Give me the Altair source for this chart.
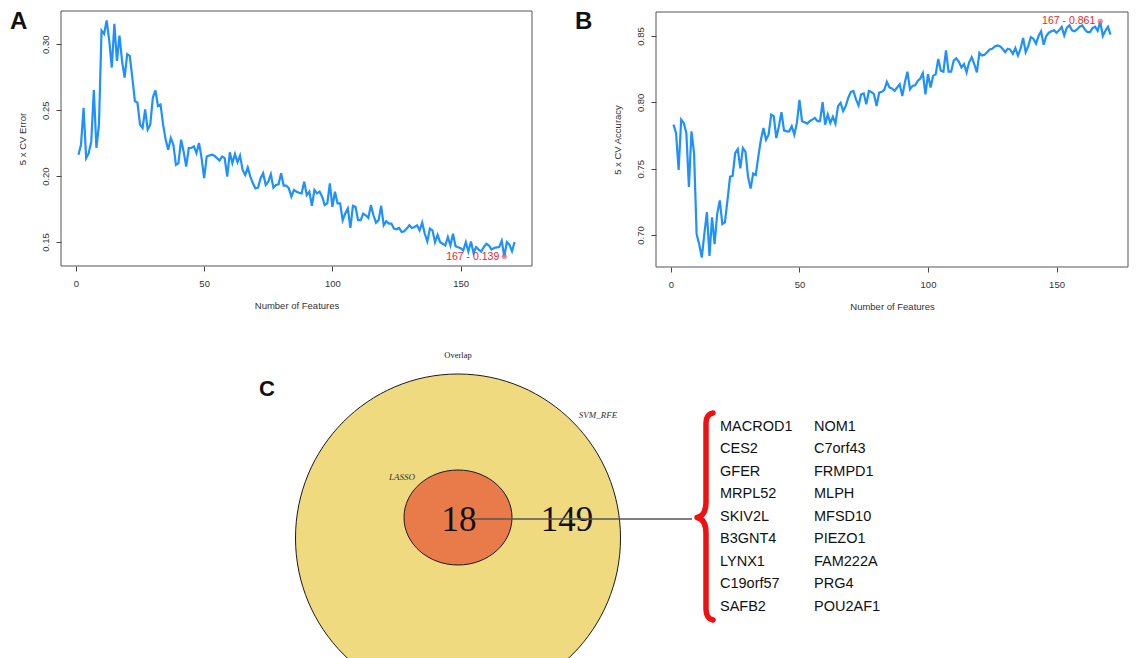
import altair as alt
import pandas as pd

W, H = 1137, 658

# ---------------- data ----------------
features = list(range(1, 172))

cv_error = [
    0.2162, 0.2238, 0.2518, 0.2136, 0.2174, 0.2263, 0.2653, 0.2213, 0.2390, 0.3103,
    0.3078, 0.3180, 0.3027, 0.2823, 0.3154, 0.2874, 0.3065, 0.2874, 0.2747, 0.2925,
    0.2912, 0.2747, 0.2569, 0.2556, 0.2390, 0.2365, 0.2505, 0.2352, 0.2390, 0.2594,
    0.2650, 0.2531, 0.2543, 0.2390, 0.2276, 0.2200, 0.2289, 0.2238, 0.2085, 0.2098,
    0.2276, 0.2187, 0.2072, 0.2213, 0.2213, 0.2225, 0.2174, 0.2251, 0.2136, 0.1984,
    0.2149, 0.2156, 0.2162, 0.2154, 0.2136, 0.2118, 0.2149, 0.2136, 0.1996, 0.2180,
    0.2098, 0.2167, 0.2105, 0.2156, 0.2047, 0.2009, 0.2065, 0.1996, 0.1945, 0.1907,
    0.1912, 0.1984, 0.2022, 0.1933, 0.1958, 0.2014, 0.1912, 0.1933, 0.1938, 0.2022,
    0.1928, 0.1928, 0.1907, 0.1844, 0.1895, 0.1882, 0.1874, 0.1869, 0.1958, 0.1856,
    0.1882, 0.1775, 0.1895, 0.1869, 0.1882, 0.1844, 0.1780, 0.1793, 0.1945, 0.1767,
    0.1882, 0.1793, 0.1793, 0.1666, 0.1716, 0.1755, 0.1607, 0.1775, 0.1767, 0.1666,
    0.1666, 0.1716, 0.1703, 0.1683, 0.1780, 0.1703, 0.1647, 0.1666, 0.1775, 0.1627,
    0.1658, 0.1640, 0.1640, 0.1602, 0.1597, 0.1607, 0.1576, 0.1581, 0.1602, 0.1627,
    0.1607, 0.1614, 0.1627, 0.1589, 0.1647, 0.1563, 0.1504, 0.1602, 0.1589, 0.1499,
    0.1555, 0.1499, 0.1487, 0.1474, 0.1538, 0.1474, 0.1563, 0.1469, 0.1461, 0.1454,
    0.1436, 0.1499, 0.1428, 0.1504, 0.1418, 0.1461, 0.1443, 0.1428, 0.1461, 0.1487,
    0.1474, 0.1443, 0.1455, 0.1460, 0.1462, 0.1510, 0.1390, 0.1500, 0.1480, 0.1430,
    0.1500,
]

cv_accuracy = [
    0.7832, 0.7769, 0.7490, 0.7870, 0.7845, 0.7769, 0.7363, 0.7782, 0.7617, 0.7007,
    0.6931, 0.6830, 0.7007, 0.7172, 0.6842, 0.7134, 0.6931, 0.7160, 0.7261, 0.7083,
    0.7096, 0.7261, 0.7439, 0.7446, 0.7617, 0.7647, 0.7502, 0.7655, 0.7629, 0.7439,
    0.7350, 0.7464, 0.7452, 0.7591, 0.7718, 0.7807, 0.7718, 0.7756, 0.7908, 0.7896,
    0.7731, 0.7820, 0.7926, 0.7789, 0.7782, 0.7782, 0.7820, 0.7756, 0.7845, 0.8018,
    0.7858, 0.7850, 0.7840, 0.7858, 0.7870, 0.7883, 0.7858, 0.7858, 0.8002, 0.7832,
    0.7908, 0.7845, 0.7891, 0.7840, 0.7972, 0.7997, 0.7934, 0.7972, 0.8035, 0.8079,
    0.8086, 0.8023, 0.7977, 0.8061, 0.8068, 0.7985, 0.8086, 0.8079, 0.8061, 0.7972,
    0.8073, 0.8079, 0.8094, 0.8155, 0.8112, 0.8104, 0.8086, 0.8112, 0.8137, 0.8048,
    0.8150, 0.8231, 0.8099, 0.8124, 0.8129, 0.8162, 0.8180, 0.8221, 0.8061, 0.8213,
    0.8112, 0.8200, 0.8213, 0.8327, 0.8239, 0.8231, 0.8391, 0.8231, 0.8231, 0.8315,
    0.8332, 0.8307, 0.8264, 0.8289, 0.8226, 0.8302, 0.8340, 0.8289, 0.8226, 0.8373,
    0.8353, 0.8358, 0.8378, 0.8398, 0.8404, 0.8421, 0.8429, 0.8424, 0.8404, 0.8378,
    0.8404, 0.8398, 0.8365, 0.8409, 0.8353, 0.8404, 0.8485, 0.8378, 0.8424, 0.8492,
    0.8480, 0.8442, 0.8500, 0.8536, 0.8434, 0.8500, 0.8525, 0.8536, 0.8543, 0.8525,
    0.8543, 0.8569, 0.8505, 0.8561, 0.8581, 0.8543, 0.8536, 0.8550, 0.8570, 0.8580,
    0.8550, 0.8530, 0.8530, 0.8560, 0.8570, 0.8540, 0.8610, 0.8500, 0.8540, 0.8570,
    0.8510,
]

x_ticks = [0, 50, 100, 150]
error_ticks = [0.15, 0.20, 0.25, 0.30]
accuracy_ticks = [0.70, 0.75, 0.80, 0.85]

venn_sets = ["SVM_RFE", "LASSO"]
svm_only_count = 149
overlap_count = 18

genes_col1 = ["MACROD1", "CES2", "GFER", "MRPL52", "SKIV2L",
              "B3GNT4", "LYNX1", "C19orf57", "SAFB2"]
genes_col2 = ["NOM1", "C7orf43", "FRMPD1", "MLPH", "MFSD10",
              "PIEZO1", "FAM222A", "PRG4", "POU2AF1"]

# ---------------- layout / style ----------------
SANS = "Liberation Sans"
SERIF = "Liberation Serif"
BLUE = "#1E90FF"
RED = "#E8262C"
TXT = "#333333"

A_BOX = dict(left=61, top=11, right=532, bottom=266)
B_BOX = dict(left=656, top=12, right=1128, bottom=267)

OUTER = dict(cx=458, cy=538, rx=162.5, ry=164)
INNER = dict(cx=458, cy=517.5, rx=54, ry=47.5)


def r_range(vals):
    lo, hi = min(vals), max(vals)
    pad = 0.04 * (hi - lo)
    return [lo - pad, hi + pad]


def panel(values, box, ytitle, yticks, best, label_dx):
    df = pd.DataFrame({"n": features, "v": values})
    xs = alt.Scale(domain=r_range(features), range=[box["left"], box["right"]],
                   nice=False, zero=False)
    ys = alt.Scale(domain=r_range(values), range=[box["bottom"], box["top"]],
                   nice=False, zero=False)
    xaxis = alt.Axis(
        orient="bottom", offset=box["bottom"] - H, values=x_ticks, format="d",
        domain=False, grid=False, tickSize=5, tickColor="#444", tickWidth=1,
        labelFont=SANS, labelFontSize=9.5, labelColor=TXT, labelPadding=7,
        labelAngle=0, labelAlign="center", labelBaseline="top", labelFlush=False,
        title="Number of Features", titleFont=SANS, titleFontSize=9.5,
        titleFontWeight="normal", titleColor=TXT,
        titleX=(box["left"] + box["right"]) / 2, titleY=39.5,
        titleAlign="center", titleBaseline="middle", titleAngle=0,
    )
    yaxis = alt.Axis(
        orient="left", offset=-box["left"], values=yticks, format=".2f",
        domain=False, grid=False, tickSize=5, tickColor="#444", tickWidth=1,
        labelFont=SANS, labelFontSize=9.5, labelColor=TXT, labelPadding=11,
        labelAngle=270, labelAlign="center", labelBaseline="middle", labelFlush=False,
        title=ytitle, titleFont=SANS, titleFontSize=9.5, titleFontWeight="normal",
        titleColor=TXT, titleX=-39, titleY=(box["top"] + box["bottom"]) / 2,
        titleAlign="center", titleBaseline="middle", titleAngle=270,
    )
    enc = dict(x=alt.X("n:Q", scale=xs, axis=xaxis),
               y=alt.Y("v:Q", scale=ys, axis=yaxis))

    frame = alt.Chart(pd.DataFrame({"f": [0]})).mark_rect(
        fillOpacity=0, stroke="#555555", strokeWidth=1
    ).encode(x=alt.value(box["left"]), x2=alt.value(box["right"]),
             y=alt.value(box["top"]), y2=alt.value(box["bottom"]))

    line = alt.Chart(df).mark_line(color=BLUE, strokeWidth=2.2).encode(**enc)

    bi = values.index(best(values))
    bdf = pd.DataFrame({"n": [features[bi]], "v": [values[bi]],
                        "label": [f"{features[bi]} - {values[bi]:.3f}"]})
    pt = alt.Chart(bdf).mark_point(filled=True, size=22, fill="#F07070",
                                   stroke="#E04848", strokeWidth=0.6,
                                   opacity=0.75).encode(**enc)
    txt = alt.Chart(bdf).mark_text(align="right", baseline="middle", dx=label_dx,
                                   font=SANS, fontSize=10.5, color=RED).encode(
        text="label:N", **enc)
    return alt.layer(frame, line, pt, txt)


panel_a = panel(cv_error, A_BOX, "5 x CV Error", error_ticks, min, -5)
panel_b = panel(cv_accuracy, B_BOX, "5 x CV Accuracy", accuracy_ticks, max, -5)


def ellipse_path(k):
    c = 0.5523
    return (f"M -1 0 C -1 {-c*k:.4f} {-c:.4f} {-k:.4f} 0 {-k:.4f} "
            f"C {c:.4f} {-k:.4f} 1 {-c*k:.4f} 1 0 "
            f"C 1 {c*k:.4f} {c:.4f} {k:.4f} 0 {k:.4f} "
            f"C {-c:.4f} {k:.4f} -1 {c*k:.4f} -1 0 Z")


def ellipse(e, fill, name):
    return alt.Chart(pd.DataFrame({"set": [name]})).mark_point(
        shape=ellipse_path(e["ry"] / e["rx"]), size=(2 * e["rx"]) ** 2,
        filled=True, fill=fill, stroke="#1a1a1a", strokeWidth=1, opacity=1
    ).encode(x=alt.value(e["cx"]), y=alt.value(e["cy"]))


outer = ellipse(OUTER, "#F0DA80", venn_sets[0])
inner = ellipse(INNER, "#E97B4B", venn_sets[1])


def label(text, x, y, size, font=SANS, style="normal", weight="normal",
          color=TXT, align="center", baseline="middle"):
    return alt.Chart(pd.DataFrame({"t": [text]})).mark_text(
        font=font, fontSize=size, fontStyle=style, fontWeight=weight,
        color=color, align=align, baseline=baseline
    ).encode(text="t:N", x=alt.value(x), y=alt.value(y))


n18 = label(str(overlap_count), 459, 520, 35, font=SERIF, color="#111111")
n149 = label(str(svm_only_count), 567, 520, 35, font=SERIF, color="#111111")
connector = alt.Chart(pd.DataFrame({"f": [0]})).mark_rule(
    color="#555555", strokeWidth=1.3
).encode(x=alt.value(473), x2=alt.value(692), y=alt.value(519))

t_overlap = label("Overlap", 458, 355, 8.5, font=SERIF, color="#222222")
t_svm = label(venn_sets[0], 598, 415, 9, font=SERIF, style="italic", color="#333333")
t_lasso = label(venn_sets[1], 402, 477, 9, font=SERIF, style="italic", color="#333333")

BRACE = ("M 0.07 -1.04 C 0.02 -1.03 0 -1.0 0 -0.94 L 0 -0.15 "
         "C 0 -0.05 -0.04 -0.005 -0.09 0.005 C -0.04 0.015 0 0.06 0 0.16 "
         "L 0 0.92 C 0 0.98 0.02 1.02 0.07 1.03")
brace = alt.Chart(pd.DataFrame({"f": [0]})).mark_point(
    shape=BRACE, size=200 ** 2, filled=False, stroke="#F01010",
    strokeWidth=5.5, opacity=1, strokeCap="round", strokeJoin="round"
).encode(x=alt.value(706), y=alt.value(517))

gdf = pd.DataFrame({
    "gene": genes_col1 + genes_col2,
    "col": [0] * len(genes_col1) + [1] * len(genes_col2),
    "row": list(range(len(genes_col1))) + list(range(len(genes_col2))),
})
genes = alt.Chart(gdf).mark_text(
    font=SANS, fontSize=14.5, color="#111111", align="left", baseline="middle"
).encode(
    x=alt.X("col:Q", scale=alt.Scale(domain=[0, 1], range=[720, 814]), axis=None),
    y=alt.Y("row:Q", scale=alt.Scale(domain=[0, 8], range=[427, 606.5]), axis=None),
    text="gene:N",
)

lab_a = label("A", 10, 29, 24, weight="bold", color="#111111", align="left",
              baseline="alphabetic")
lab_b = label("B", 575, 29, 24, weight="bold", color="#111111", align="left",
              baseline="alphabetic")
lab_c = label("C", 259, 396, 22, weight="bold", color="#111111", align="left",
              baseline="alphabetic")

chart = alt.layer(
    panel_a, panel_b,
    outer, inner, n18, n149, connector, t_overlap, t_svm, t_lasso,
    brace, genes, lab_a, lab_b, lab_c,
).resolve_scale(x="independent", y="independent").properties(
    width=W, height=H, autosize=alt.AutoSizeParams(type="none"), padding=0,
    background="white",
).configure_view(strokeWidth=0)

chart.save("out.html", embed_options={"renderer": "svg", "actions": False})
